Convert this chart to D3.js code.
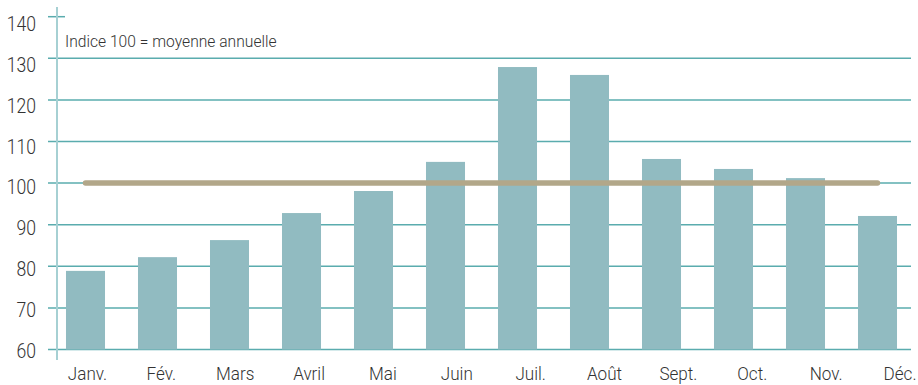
<!DOCTYPE html>
<html lang="fr">
<head>
<meta charset="utf-8">
<script src="https://cdn.jsdelivr.net/npm/d3@7"></script>
<style>
  html, body { margin: 0; padding: 0; background: #fff; }
  svg { display: block; }
  text { font-family: Roboto, "Noto Sans", sans-serif; font-weight: 300; fill: #333; }
</style>
</head>
<body>
<svg id="chart" width="918" height="385"></svg>
<script>
// Mois de l'année
const months = ["Janv.", "Fév.", "Mars", "Avril", "Mai", "Juin", "Juil.", "Août", "Sept.", "Oct.", "Nov.", "Déc."];
// Indice mensuel (100 = moyenne annuelle)
const monthlyIndex = [78.9, 82.2, 86.3, 92.8, 98.1, 105.1, 127.9, 126.0, 105.8, 103.4, 101.2, 92.1];
// Niveau de référence
const annualMean = 100;
// Graduations de l'axe vertical
const yTicks = [60, 70, 80, 90, 100, 110, 120, 130, 140];
const note = "Indice 100 = moyenne annuelle";

// Police étroite obtenue par compression horizontale
const narrow = 0.9;

const svg = d3.select("#chart");

const y = d3.scaleLinear().domain([60, 140]).range([349.5, 16.7]);
const x = d3.scaleBand().domain(months).range([49.5, 913.5]).paddingInner(0.458).paddingOuter(0.229);

// Positions des libellés
const yLab = d3.scaleLinear().domain([60, 140]).range([350.5, 24]);
const xLab = d3.scalePoint().domain(months).range([87.5, 900]);

// Quadrillage horizontal
svg.append("g")
  .selectAll("line")
  .data(yTicks)
  .join("line")
  .attr("x1", 48)
  .attr("x2", d => d === 140 ? 65 : 911)
  .attr("y1", d => y(d))
  .attr("y2", d => y(d))
  .attr("stroke", "#5aacae")
  .attr("stroke-width", 1.5);

// Barres
svg.append("g")
  .selectAll("rect")
  .data(monthlyIndex)
  .join("rect")
  .attr("x", (d, i) => x(months[i]))
  .attr("width", x.bandwidth())
  .attr("y", d => y(d))
  .attr("height", d => y(60) - y(d))
  .attr("fill", "#91bbc1");

// Axe vertical
svg.append("line")
  .attr("x1", 57).attr("x2", 57)
  .attr("y1", 7).attr("y2", 360)
  .attr("stroke", "#a6d0d3")
  .attr("stroke-width", 2);

// Ligne de la moyenne annuelle
svg.append("path")
  .datum([months[0], months[months.length - 1]])
  .attr("d", d3.line()
    .x(m => x(m) + x.bandwidth() / 2)
    .y(() => y(annualMean)))
  .attr("stroke", "#b2a789")
  .attr("stroke-width", 5.5)
  .attr("stroke-linecap", "round")
  .attr("fill", "none");

// Libellés de l'axe vertical
svg.append("g")
  .selectAll("text")
  .data(yTicks)
  .join("text")
  .attr("transform", d => `translate(36,${yLab(d)}) scale(0.88,1)`)
  .attr("dy", "0.36em")
  .attr("text-anchor", "end")
  .attr("font-size", 20)
  .text(d => d);

// Libellés des mois
svg.append("g")
  .selectAll("text")
  .data(months)
  .join("text")
  .attr("transform", m => `translate(${xLab(m)},379.5) scale(${narrow},1)`)
  .attr("text-anchor", "middle")
  .attr("font-size", 19)
  .text(m => m);

// Note
svg.append("text")
  .attr("transform", `translate(65,46.5) scale(0.92,1)`)
  .attr("font-size", 17)
  .text(note);
</script>
</body>
</html>
